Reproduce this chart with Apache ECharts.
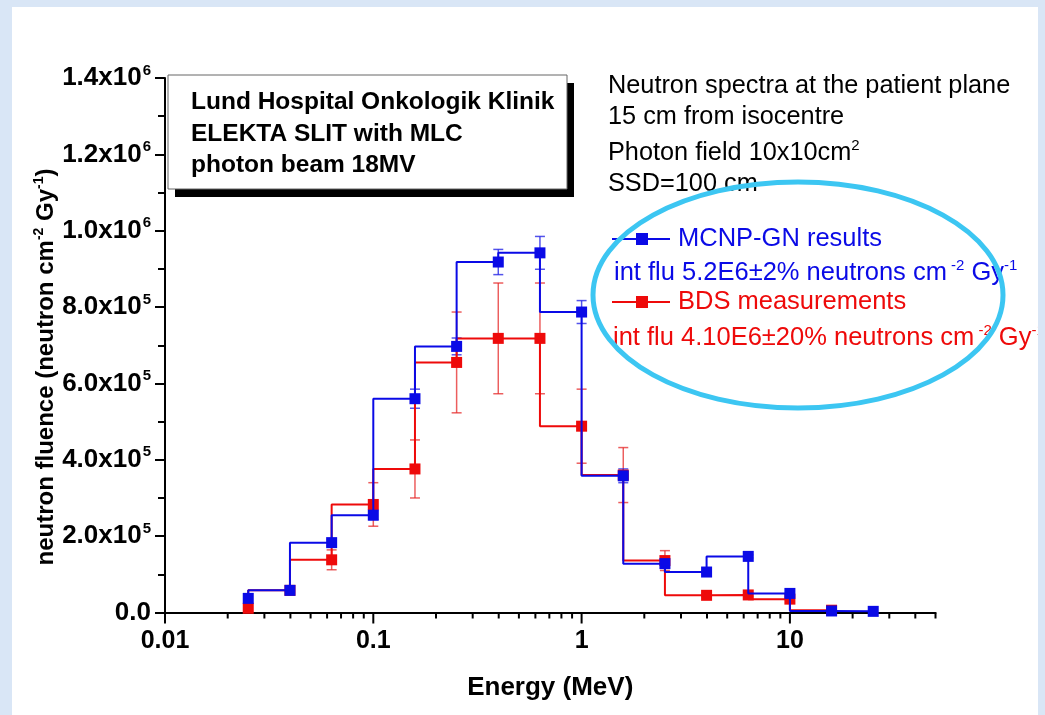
<!DOCTYPE html>
<html><head><meta charset="utf-8">
<script src="https://cdn.jsdelivr.net/npm/echarts@6/dist/echarts.min.js"></script>
<style>
html,body{margin:0;padding:0;width:1045px;height:715px;overflow:hidden;background:#d9e6f6;}
#chart{position:absolute;left:12px;top:7px;width:1026px;height:708px;background:#fff;overflow:hidden;}
</style></head><body><div id="chart"></div>
<script>
// ---- data ----
const energy = [0.0251, 0.0398, 0.0631, 0.1, 0.1585, 0.2512, 0.3981, 0.631, 1.0, 1.585, 2.512, 3.981, 6.31, 10, 15.85, 25.12];
const mcnp    = [3.7e4, 5.8e4, 1.83e5, 2.55e5, 5.6e5, 6.97e5, 9.18e5, 9.42e5, 7.87e5, 3.58e5, 1.28e5, 1.06e5, 1.47e5, 5.0e4, 4e3, 3e3];
const mcnpErr = [0, 0, 8e3, 1.2e4, 2.5e4, 2.2e4, 3.3e4, 4.3e4, 3.0e4, 1.8e4, 5e3, 4e3, 4e3, 3e3, 0, 0];
const bdsEnergy = [0.0251, 0.0398, 0.0631, 0.1, 0.1585, 0.2512, 0.3981, 0.631, 1.0, 1.585, 2.512, 3.981, 6.31, 10, 15.85];
const bds    = [1.1e4, 5.8e4, 1.38e5, 2.83e5, 3.76e5, 6.55e5, 7.18e5, 7.18e5, 4.88e5, 3.6e5, 1.36e5, 4.5e4, 4.6e4, 3.5e4, 6e3];
const bdsErr = [0, 0, 2.6e4, 5.7e4, 7.6e4, 1.32e5, 1.45e5, 1.45e5, 9.7e4, 7.2e4, 2.6e4, 4e3, 4e3, 3e3, 0];
const xMajorTicks = [0.01, 0.1, 1, 10];
const xTickLabels = ['0.01', '0.1', '1', '10'];
const xMinorTicks = [0.02,0.03,0.04,0.05,0.06,0.07,0.08,0.09, 0.2,0.3,0.4,0.5,0.6,0.7,0.8,0.9, 2,3,4,5,6,7,8,9, 20,30,40,50];
const yTickMant = ['0.0', '2.0', '4.0', '6.0', '8.0', '1.0', '1.2', '1.4'];
const yTickExp  = ['', '5', '5', '5', '5', '6', '6', '6'];

const FF = 'Arial, "Liberation Sans", Helvetica, sans-serif';
const BLUE = '#0a0ae6', RED = '#ee0a0a';

function errData(xs, ys, es) {
  const out = [];
  xs.forEach((x, i) => { if (es[i] > 0) out.push([x, ys[i] - es[i], ys[i] + es[i]]); });
  return out;
}
function errSeries(data, color) {
  return {
    type: 'custom', data: data, z: 1, silent: true,
    encode: { x: 0, y: [1, 2] },
    renderItem: function (params, api) {
      const lo = api.coord([api.value(0), api.value(1)]);
      const hi = api.coord([api.value(0), api.value(2)]);
      const w = 5;
      const st = { stroke: color, lineWidth: 1.5 };
      return { type: 'group', children: [
        { type: 'line', shape: { x1: lo[0], y1: lo[1], x2: hi[0], y2: hi[1] }, style: st },
        { type: 'line', shape: { x1: lo[0] - w, y1: lo[1], x2: lo[0] + w, y2: lo[1] }, style: st },
        { type: 'line', shape: { x1: hi[0] - w, y1: hi[1], x2: hi[0] + w, y2: hi[1] }, style: st }
      ]};
    }
  };
}
function supText(x, y, str, color, size) {
  return { type: 'text', z: 22, x: x, y: y, style: {
    text: str, verticalAlign: 'middle',
    rich: { t: { fontFamily: FF, fontSize: size, fill: color },
            s: { fontFamily: FF, fontSize: 15, fill: color, padding: [0, 0, 15, 0] } } } };
}

const chart = echarts.init(document.getElementById('chart'));
chart.setOption({
  backgroundColor: '#ffffff',
  animation: false,
  grid: { left: 153, top: 71, right: 102.5, bottom: 102.5, outerBoundsMode: 'none' },
  xAxis: {
    type: 'log', logBase: 10, min: 0.01, max: 50,
    axisLine: { onZero: false, lineStyle: { color: '#000', width: 2 } },
    axisTick: { show: false },
    splitLine: { show: false },
    axisLabel: {
      margin: 16, color: '#000', fontFamily: FF, fontSize: 25, fontWeight: 'bold',
      showMaxLabel: false,
      formatter: function (v) {
        for (let i = 0; i < xMajorTicks.length; i++) {
          if (Math.abs(Math.log10(v) - Math.log10(xMajorTicks[i])) < 1e-6) return xTickLabels[i];
        }
        return '';
      }
    },
    name: 'Energy (MeV)', nameLocation: 'middle', nameGap: 62,
    nameTextStyle: { color: '#000', fontFamily: FF, fontSize: 26, fontWeight: 'bold' }
  },
  yAxis: {
    type: 'value', min: 0, max: 1.4e6, interval: 2e5,
    axisLine: { show: true, onZero: false, lineStyle: { color: '#000', width: 2 } },
    axisTick: { show: true, length: 10, lineStyle: { color: '#000', width: 2 } },
    minorTick: { show: true, splitNumber: 2, length: 7, lineStyle: { color: '#000', width: 2 } },
    splitLine: { show: false },
    axisLabel: {
      margin: 14, color: '#000',
      formatter: function (v) {
        const i = Math.round(v / 2e5);
        if (!yTickExp[i]) return '{m|' + yTickMant[i] + '}';
        return '{m|' + yTickMant[i] + 'x10}{e|' + yTickExp[i] + '}';
      },
      rich: {
        m: { fontFamily: FF, fontSize: 26, fontWeight: 'bold', color: '#000' },
        e: { fontFamily: FF, fontSize: 15, fontWeight: 'bold', color: '#000', padding: [0, 0, 15, 1] }
      }
    }
  },
  series: [
    {
      type: 'custom', silent: true, z: 5, clip: false,
      data: xMajorTicks.map(v => [v, 1]).concat(xMinorTicks.map(v => [v, 0])),
      encode: { x: 0 },
      renderItem: function (params, api) {
        const p = api.coord([api.value(0), 0]);
        const len = api.value(1) ? 11 : 6;
        return { type: 'line', shape: { x1: p[0], y1: p[1], x2: p[0], y2: p[1] + len },
                 style: { stroke: '#000', lineWidth: 2 } };
      }
    },
    errSeries(errData(bdsEnergy, bds, bdsErr), 'rgba(230,40,40,0.75)'),
    errSeries(errData(energy, mcnp, mcnpErr), 'rgba(40,40,230,0.8)'),
    {
      name: 'BDS measurements', type: 'line', step: 'start', z: 3,
      data: bdsEnergy.map((e, i) => [e, bds[i]]),
      symbol: 'rect', symbolSize: 11,
      lineStyle: { color: RED, width: 2 }, itemStyle: { color: RED }
    },
    {
      name: 'MCNP-GN results', type: 'line', step: 'start', z: 4,
      data: energy.map((e, i) => [e, mcnp[i]]),
      symbol: 'rect', symbolSize: 11,
      lineStyle: { color: BLUE, width: 2 }, itemStyle: { color: BLUE }
    }
  ],
  graphic: { elements: [
    // y axis title
    { type: 'text', z: 22, x: 34, y: 360, rotation: Math.PI / 2, style: {
        text: '{a|neutron fluence (neutron cm}{s|-2}{a| Gy}{s|-1}{a|)}',
        align: 'center', verticalAlign: 'middle',
        rich: { a: { fontFamily: FF, fontSize: 24, fontWeight: 'bold', fill: '#000' },
                s: { fontFamily: FF, fontSize: 14, fontWeight: 'bold', fill: '#000', padding: [0, 0, 13, 0] } } } },

    { type: 'rect', z: 20, shape: { x: 163, y: 76, width: 399, height: 114 }, style: { fill: '#000' } },
    { type: 'rect', z: 21, shape: { x: 156, y: 68, width: 399, height: 114 }, style: { fill: '#fff', stroke: '#666', lineWidth: 1 } },
    { type: 'text', z: 22, x: 179, y: 95, style: { text: 'Lund Hospital Onkologik Klinik', fontFamily: FF, fontSize: 24.5, fontWeight: 'bold', fill: '#000', verticalAlign: 'middle' } },
    { type: 'text', z: 22, x: 179, y: 127, style: { text: 'ELEKTA SLIT with MLC', fontFamily: FF, fontSize: 24.5, fontWeight: 'bold', fill: '#000', verticalAlign: 'middle' } },
    { type: 'text', z: 22, x: 179, y: 158, style: { text: 'photon beam 18MV', fontFamily: FF, fontSize: 24.5, fontWeight: 'bold', fill: '#000', verticalAlign: 'middle' } },

    { type: 'text', z: 22, x: 596, y: 79, style: { text: 'Neutron spectra at the patient plane', fontFamily: FF, fontSize: 25.3, fill: '#000', verticalAlign: 'middle' } },
    { type: 'text', z: 22, x: 596, y: 110, style: { text: '15 cm from isocentre', fontFamily: FF, fontSize: 25.3, fill: '#000', verticalAlign: 'middle' } },
    supText(596, 146, '{t|Photon field 10x10cm}{s|2}', '#000', 25.3),
    { type: 'text', z: 22, x: 596, y: 177, style: { text: 'SSD=100 cm', fontFamily: FF, fontSize: 25.3, fill: '#000', verticalAlign: 'middle' } },

    { type: 'line', z: 22, shape: { x1: 600, y1: 232, x2: 658, y2: 232 }, style: { stroke: BLUE, lineWidth: 2 } },
    { type: 'rect', z: 23, shape: { x: 624, y: 226, width: 12, height: 12 }, style: { fill: BLUE } },
    { type: 'text', z: 22, x: 666, y: 232, style: { text: 'MCNP-GN results', fontFamily: FF, fontSize: 25.5, fill: BLUE, verticalAlign: 'middle' } },
    supText(602, 266, '{t|int flu 5.2E6\u00b12% neutrons cm}{s| -2}{t| Gy}{s|-1}', BLUE, 25.5),
    { type: 'line', z: 22, shape: { x1: 600, y1: 295, x2: 658, y2: 295 }, style: { stroke: RED, lineWidth: 2 } },
    { type: 'rect', z: 23, shape: { x: 624, y: 289, width: 12, height: 12 }, style: { fill: RED } },
    { type: 'text', z: 22, x: 666, y: 295, style: { text: 'BDS measurements', fontFamily: FF, fontSize: 25.5, fill: RED, verticalAlign: 'middle' } },
    supText(601, 331, '{t|int flu 4.10E6\u00b120% neutrons cm}{s| -2}{t| Gy}{s|-1}', RED, 25.5),

    { type: 'ellipse', z: 30, shape: { cx: 786, cy: 288, rx: 205, ry: 113 }, style: { fill: 'none', stroke: '#3cc6f2', lineWidth: 5 } }
  ]}
});
</script></body></html>
